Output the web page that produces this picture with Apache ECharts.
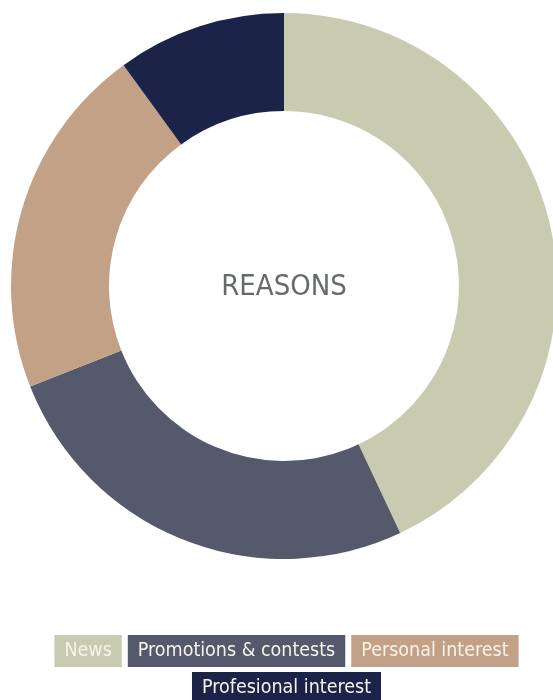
<!DOCTYPE html>
<html>
<head>
<meta charset="utf-8">
<title>Reasons</title>
<script src="https://cdn.jsdelivr.net/npm/echarts@6/dist/echarts.min.js"></script>
<style>
  html, body { margin: 0; padding: 0; background: #ffffff; overflow: hidden; }
  #chart { width: 568px; height: 700px; }
</style>
</head>
<body>
<div id="chart"></div>
<script>
// Survey answers: why people follow the page (share of respondents, %)
const categories = ['News', 'Promotions & contests', 'Personal interest', 'Profesional interest'];
const shares = [43, 26, 21, 10];
const colors = ['#c9cbb1', '#545a6b', '#c3a186', '#1c2349'];
const centerLabel = 'REASONS';

const FONT = '"Liberation Sans Narrow", "DejaVu Sans Condensed", "Roboto Condensed", sans-serif';

const pieData = categories.map((name, i) => ({
  name: name,
  value: shares[i],
  itemStyle: { color: colors[i] }
}));

// Legend entries rendered as coloured tags
function legendEntry(i) {
  return {
    name: categories[i],
    icon: 'none',
    textStyle: {
      backgroundColor: colors[i],
      color: '#f6f4ea',
      padding: [6, 10, 6, 10]
    }
  };
}

const legendBase = {
  left: 'center',
  orient: 'horizontal',
  padding: [5, 9, 5, 5],
  itemWidth: 0,
  itemHeight: 0,
  itemGap: 1,
  selectedMode: false,
  textStyle: { fontFamily: FONT, fontSize: 19.5, lineHeight: 20 }
};

const chart = echarts.init(document.getElementById('chart'), null, { renderer: 'canvas' });
chart.setOption({
  animation: false,
  title: {
    text: centerLabel,
    left: 'center',
    top: 268,
    textStyle: { fontFamily: FONT, fontSize: 29, fontWeight: 'normal', color: '#666a6e' }
  },
  legend: [
    Object.assign({}, legendBase, { top: 630, data: [0, 1, 2].map(legendEntry) }),
    Object.assign({}, legendBase, { top: 667, data: [3].map(legendEntry) })
  ],
  series: [{
    type: 'pie',
    center: ['50%', 286],
    radius: [175, 273],
    startAngle: 90,
    clockwise: true,
    avoidLabelOverlap: false,
    label: { show: false },
    labelLine: { show: false },
    emphasis: { disabled: true },
    data: pieData
  }]
});
</script>
</body>
</html>
